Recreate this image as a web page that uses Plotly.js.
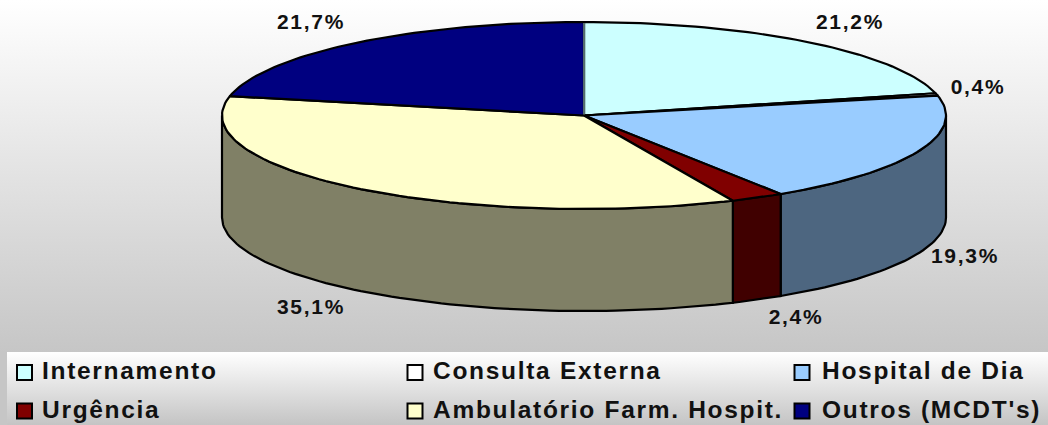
<!DOCTYPE html>
<html><head><meta charset="utf-8">
<script src="https://cdn.plot.ly/plotly-3.0.1.min.js"></script>
<style>
html,body{margin:0;padding:0;width:1048px;height:425px;overflow:hidden}
#wrap{position:relative;width:1048px;height:425px;background:linear-gradient(#ffffff 0px,#c6c6c6 352px)}
#box{position:absolute;left:7px;top:352px;width:1041px;height:73px;background:linear-gradient(#ffffff,#c4c4c4)}
#chart{position:absolute;left:0;top:0;width:1048px;height:425px}
#chart svg text{letter-spacing:1.7px}
</style></head><body>
<div id="wrap"><div id="box"></div><div id="chart"></div></div>
<script>
const categories=["Internamento","Consulta Externa","Hospital de Dia","Urgência","Ambulatório Farm. Hospit.","Outros (MCDT's)"];
const values=[21.2,0.4,19.3,2.4,35.1,21.7];
const valueLabels=["21,2%","0,4%","19,3%","2,4%","35,1%","21,7%"];
const topColors=["#CCFFFF","#FFFFFF","#99CCFF","#800000","#FFFFCC","#000080"];
const sideColors=["#668080","#808080","#4D6680","#400000","#808066","#000040"];
const labelX=[850,978,965,796,311,311];
const labelY=[24,89,258,319,309,24];
const legendMarkerX=[24.5,415,802,24.5,415,802];
const legendMarkerY=[372.5,372.5,372.5,411,411,411];
const legendTextX=[42,433,822,42,433,822];
const legendTextY=[373,373,373,412,412,412];

const cx=584,cy=115.5,rx=362,ry=93.5,depth=102,lw=2.2;
const total=values.reduce((a,b)=>a+b,0);
const px=a=>cx+rx*Math.sin(a*Math.PI/180);
const py=a=>cy-ry*Math.cos(a*Math.PI/180);
function arc(a0,a1){const n=Math.max(2,Math.ceil(Math.abs(a1-a0)/1.5));const o=[];
  for(let i=0;i<=n;i++)o.push(a0+(a1-a0)*i/n);return o;}
const traces=[];
let start=0;const slices=values.map(v=>{const s={a0:start,a1:start+v/total*360};start=s.a1;return s;});
// side walls (front half only)
slices.forEach((s,i)=>{
  const a0=Math.max(s.a0,90),a1=Math.min(s.a1,270);
  if(a1<=a0)return;
  const A=arc(a0,a1),B=A.slice().reverse();
  const x=A.map(px).concat(B.map(px)),y=A.map(py).concat(B.map(a=>py(a)+depth));
  x.push(x[0]);y.push(y[0]);
  traces.push({x,y,mode:'lines',fill:'toself',fillcolor:sideColors[i],line:{color:'#000',width:lw},hoverinfo:'skip',showlegend:false});
});
// top faces
slices.forEach((s,i)=>{
  const A=arc(s.a0,s.a1);
  const x=[cx].concat(A.map(px),[cx]),y=[cy].concat(A.map(py),[cy]);
  traces.push({x,y,mode:'lines',fill:'toself',fillcolor:topColors[i],line:{color:'#000',width:lw},name:categories[i],hoverinfo:'skip',showlegend:false});
});
// lighter seam where the first slice starts
traces.push({x:[px(0),px(0)],y:[py(0)+1,cy-1],mode:'lines',line:{color:'#6F8F8F',width:1.5},hoverinfo:'skip',showlegend:false});
// value labels
traces.push({x:labelX,y:labelY,mode:'text',text:valueLabels,textposition:'middle center',
  textfont:{family:'Liberation Sans, Arial, sans-serif',size:21,color:'#111',weight:'bold'},hoverinfo:'skip',showlegend:false});
// legend
traces.push({x:legendMarkerX,y:legendMarkerY,mode:'markers',
  marker:{symbol:'square',size:15,color:topColors,line:{color:'#000',width:2}},hoverinfo:'skip',showlegend:false});
traces.push({x:legendTextX,y:legendTextY,mode:'text',text:categories,textposition:'middle right',
  textfont:{family:'Liberation Sans, Arial, sans-serif',size:24.5,color:'#111',weight:'bold'},hoverinfo:'skip',showlegend:false});
const layout={width:1048,height:425,margin:{l:0,r:0,t:0,b:0},paper_bgcolor:'rgba(0,0,0,0)',plot_bgcolor:'rgba(0,0,0,0)',
  xaxis:{range:[0,1048],visible:false,fixedrange:true},yaxis:{range:[425,0],visible:false,fixedrange:true},showlegend:false};
Plotly.newPlot('chart',traces,layout,{displayModeBar:false,staticPlot:true});
</script></body></html>
